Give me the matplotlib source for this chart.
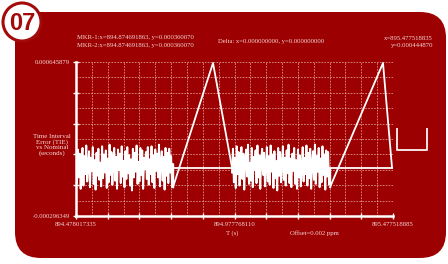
import matplotlib.pyplot as plt
import numpy as np
from matplotlib.patches import FancyBboxPatch, Rectangle, Circle

# axis range (seconds)
x_min, x_max = 894.478017335, 895.477518885
y_min, y_max = -0.000296349, 0.000645879

# TIE trace, values in microseconds
noise1 = [20, -95, 110, -60, 85, -130, 40, 120, -110, 70, -40, 135, -85, 15, 100,
          -120, 60, -20, 125, -100, 45, -135, 90, -50, 115, -75, 30, -115, 130, -65,
          80, -30, 105, -125, 55, -90, 140, -45, 95, -105, 25, 120, -80, 65, -130,
          110, -15, 85, -95, 130, -55, 40, -120, 100, -70, 125, -35, 75, -110, 50,
          -140, 115, -60, 90, -25, 135, -100, 35, -85, 120, -45, 105, -130, 60, -10,
          95, -70, 125, -105, 50, -40, 130, -90, 75, -125, 110, -20, 85, -60, 140,
          -115, 35, 100, -80, 65, -135, 120, -50, 90, -95, 115, -30, 70, -120, 20]
noise2 = [-30, 115, -90, 60, -125, 130, -40, 95, -110, 20, 125, -70, 85, -135, 45,
          110, -55, 140, -100, 30, -80, 120, -120, 65, -15, 105, -95, 135, -60, 75,
          -130, 50, 115, -45, 90, -115, 10, 125, -85, 70, -105, 135, -25, 80, -125,
          100, -65, 40, -140, 120, -50, 95, -90, 25, 130, -75, 60, -110, 105, -35,
          140, -95, 55, -120, 85, -20, 120, -100, 45, -130, 110, -60, 75, -115, 5,
          125, -85, 60, -40, 135, -110, 90, -65, 115, -130, 30, 100, -75, 140, -100,
          70, -25, 120, -120, 55, -90, 130, -45, 80, -135, 105, -55, 95, -105, -10]
noise1_span = (894.478017, 894.7838)
noise2_span = (894.9699, 895.2789)
ramp1_x = [894.7838, 894.9100, 894.9699]
ramp1_y = [-120, 640, 0]
ramp2_x = [895.2789, 895.4460, 895.4744]
ramp2_y = [-120, 640, 0]
flat1_x = [894.7838, 894.9699]
flat2_x = [895.2789, 895.4775]

red = '#9c0000'
txt = '#f6d8d8'
serif = ['Liberation Serif', 'DejaVu Serif']

fig = plt.figure(figsize=(4.48, 2.64), dpi=100)
fig.patch.set_facecolor('white')

# background panel + badge
bg = fig.add_axes([0, 0, 1, 1])
bg.set_xlim(0, 448)
bg.set_ylim(264, 0)
bg.axis('off')
bg.add_patch(FancyBboxPatch((15, 12), 431, 246, boxstyle='round,pad=0,rounding_size=26',
                            fc=red, ec='none'))
bg.add_patch(Rectangle((15, 12), 40, 40, fc=red, ec='none'))
bg.add_patch(Circle((22, 22), 19, fc='white', ec='#a30b0b', lw=2.2, zorder=5))
bg.text(22.5, 23, '07', ha='center', va='center', fontsize=17, fontweight='bold',
        color='#a30b0b', family='Liberation Sans', zorder=6)

# right-hand bracket symbol
bg.plot([397, 397, 427, 427], [129, 150, 150, 129], color='#f4e4e4', lw=1.4)

# header texts
bg.text(77, 38, 'MKR-1:x=894.874691863, y=0.000360070', fontsize=4.8, color=txt,
        family=serif, va='center')
bg.text(77, 46, 'MKR-2:x=894.874691863, y=0.000360070', fontsize=4.8, color=txt,
        family=serif, va='center')
bg.text(218, 42, 'Delta: x=0.000000000, y=0.000000000', fontsize=4.8, color=txt,
        family=serif, va='center')
bg.text(433, 38, 'x=895.477518835', fontsize=4.8, color=txt, family=serif,
        va='center', ha='right')
bg.text(433, 46, 'y=0.000444870', fontsize=4.8, color=txt, family=serif,
        va='center', ha='right')
bg.text(52, 145, 'Time Interval\nError (TIE)\nvs Nominal\n(seconds)', fontsize=5,
        color=txt, family=serif, ha='center', va='center', linespacing=1.05)
bg.text(232, 233, 'T (s)', fontsize=4.8, color=txt, family=serif, ha='center', va='center')
bg.text(314, 233, 'Offset=0.002 ppm', fontsize=4.8, color=txt, family=serif,
        ha='center', va='center')

# plot
ax = fig.add_axes([76 / 448, 48 / 264, 317 / 448, 154 / 264])
ax.set_facecolor('none')
ax.set_xlim(x_min, x_max)
ax.set_ylim(y_min, y_max)

ax.set_xticks(np.linspace(x_min, x_max, 11))
ax.set_xticks(np.linspace(x_min, x_max, 21), minor=True)
ax.set_yticks(np.linspace(y_min, y_max, 6))
ax.set_yticks(np.linspace(y_min, y_max, 11), minor=True)
xl = [''] * 11
xl[0], xl[5], xl[10] = '894.478017335', '894.977768110', '895.477518885'
ax.set_xticklabels(xl)
yl = [''] * 6
yl[0], yl[5] = '-0.000296349', '0.000645879'
ax.set_yticklabels(yl)
for lab in ax.get_xticklabels() + ax.get_yticklabels():
    lab.set_family(serif)
ax.tick_params(which='major', direction='inout', length=5, width=1, colors='white',
               labelsize=4.8, labelcolor=txt, pad=2)
ax.tick_params(which='minor', length=0)
ax.grid(which='both', color='#f0b4b4', ls=(0, (2, 1.5)), lw=0.6, alpha=0.8)
for s in ['top', 'right']:
    ax.spines[s].set_visible(False)
for s in ['left', 'bottom']:
    ax.spines[s].set_color('white')
    ax.spines[s].set_linewidth(1.8)

us = 1e-6
ax.plot(np.linspace(*noise1_span, len(noise1)), np.array(noise1) * us, color='white', lw=1.4)
ax.plot(np.linspace(*noise2_span, len(noise2)), np.array(noise2) * us, color='white', lw=1.4)
ax.plot(ramp1_x, np.array(ramp1_y) * us, color='white', lw=1.3)
ax.plot(ramp2_x, np.array(ramp2_y) * us, color='white', lw=1.3)
ax.plot(flat1_x, [0, 0], color='white', lw=1.3)
ax.plot(flat2_x, [0, 0], color='white', lw=1.3)
# connect noise ends to ramp starts
ax.plot([noise1_span[1], ramp1_x[0]], [noise1[-1] * us, ramp1_y[0] * us], color='white', lw=1.0)
ax.plot([noise2_span[1], ramp2_x[0]], [noise2[-1] * us, ramp2_y[0] * us], color='white', lw=1.0)

fig.savefig('out.png', dpi=100, facecolor='white')
